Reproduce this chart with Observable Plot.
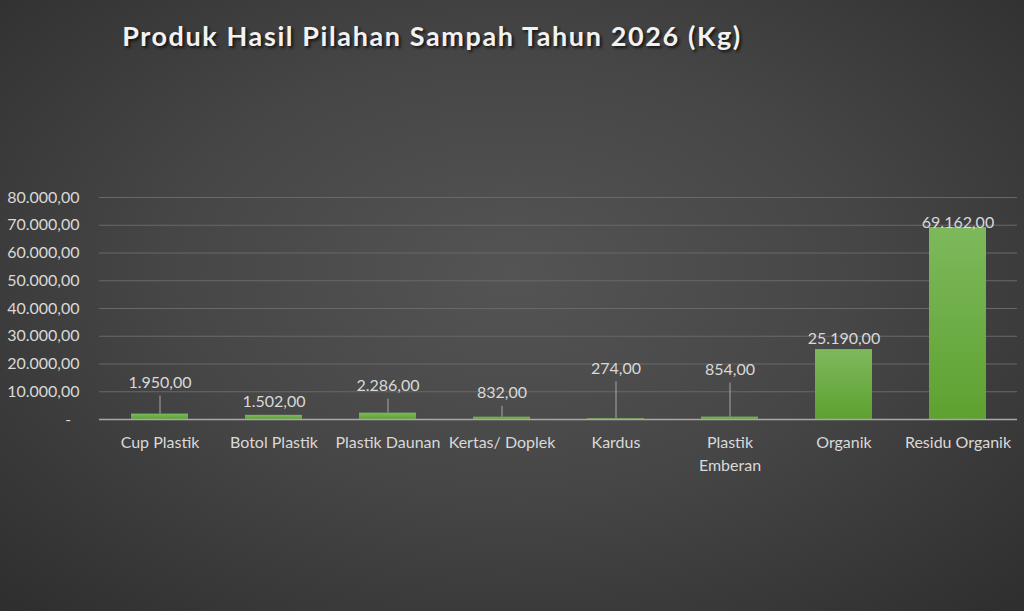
<!DOCTYPE html>
<html>
<head>
<meta charset="utf-8">
<script src="https://cdn.jsdelivr.net/npm/d3@7"></script>
<script src="https://cdn.jsdelivr.net/npm/@observablehq/plot@0.6"></script>
<style>
  html, body { margin: 0; padding: 0; }
  body {
    width: 1024px; height: 611px; overflow: hidden; position: relative;
    background: radial-gradient(ellipse 75% 80% at 50% 45%, #545454 0%, #464646 45%, #2c2c2c 100%);
    font-family: Lato, "Open Sans", sans-serif;
  }
  #title {
    position: absolute; left: 0; top: 19px; width: 864px; text-align: center;
    color: #f2f2f2; font-family: Lato, sans-serif; font-weight: 700; font-size: 27px;
    letter-spacing: 1.6px; text-shadow: 2px 2px 3px rgba(0,0,0,0.7);
  }
  #chart { position: absolute; left: 0; top: 0; }
</style>
</head>
<body>
<div id="title">Produk Hasil Pilahan Sampah Tahun 2026 (Kg)</div>
<div id="chart"></div>
<script>
const categories = ["Cup Plastik", "Botol Plastik", "Plastik Daunan", "Kertas/ Doplek", "Kardus", "Plastik Emberan", "Organik", "Residu Organik"];
const values = [1950, 1502, 2286, 832, 274, 854, 25190, 69162];
const yTicks = [0, 10000, 20000, 30000, 40000, 50000, 60000, 70000, 80000];

// label placement (pixels above bar top) — styling, not data
const labelLift = [31, 13, 27, 24, 50, 47, 11, 5];
const leaderGap = 13;

const W = 1024, H = 611;
const mTop = 197, mBottom = 192, mLeft = 99, mRight = 7;
const plotH = H - mTop - mBottom;
const yMax = 80000;
const k = yMax / plotH; // data units per pixel

const fmt = v => v.toLocaleString("de-DE", {minimumFractionDigits: 2, maximumFractionDigits: 2});

const data = categories.map((c, i) => ({
  name: c,
  value: values[i],
  labelY: values[i] + labelLift[i] * k,
  leaderTop: values[i] + (labelLift[i] - leaderGap) * k,
  leader: labelLift[i] > 20
}));

const txt = "#d9d9d9";
const xFmt = d => d === "Plastik Emberan" ? "Plastik\nEmberan" : d;

const chart = Plot.plot({
  width: W, height: H,
  marginTop: mTop, marginBottom: mBottom, marginLeft: mLeft, marginRight: mRight,
  style: {background: "transparent", color: txt, fontFamily: "Lato, 'Open Sans', sans-serif", fontSize: "16px", overflow: "visible"},
  x: {domain: categories, paddingInner: 0.5, paddingOuter: 0.25, label: null},
  y: {domain: [0, yMax], label: null},
  marks: [
    Plot.gridY(yTicks.filter(t => t > 0), {stroke: "#686868", strokeOpacity: 1, strokeWidth: 1}),
    Plot.barY(data, {x: "name", y: "value", fill: "url(#barGrad)"}),
    Plot.ruleY([0], {stroke: "#a8a8a8", strokeWidth: 1.5}),
    Plot.ruleX(data.filter(d => d.leader), {x: "name", y1: "value", y2: "leaderTop", stroke: "#a6a6a6", strokeWidth: 1}),
    Plot.text(data, {x: "name", y: "labelY", text: d => fmt(d.value), fill: txt, fontSize: 16}),
    Plot.axisX({tickSize: 0, tickPadding: 13, fontSize: 16, lineHeight: 1.4, tickFormat: xFmt, fill: txt}),
    Plot.axisY({ticks: yTicks, tickSize: 0, tickPadding: 20, fontSize: 16, fill: txt,
      tickFormat: d => d === 0 ? "-\u00a0\u00a0" : fmt(d)})
  ]
});

const defs = document.createElementNS("http://www.w3.org/2000/svg", "defs");
defs.innerHTML = `<linearGradient id="barGrad" x1="0" y1="0" x2="0" y2="1">
  <stop offset="0%" stop-color="#7db95c"/>
  <stop offset="100%" stop-color="#5ea130"/>
</linearGradient>`;
chart.insertBefore(defs, chart.firstChild);
document.getElementById("chart").appendChild(chart);
</script>
</body>
</html>
